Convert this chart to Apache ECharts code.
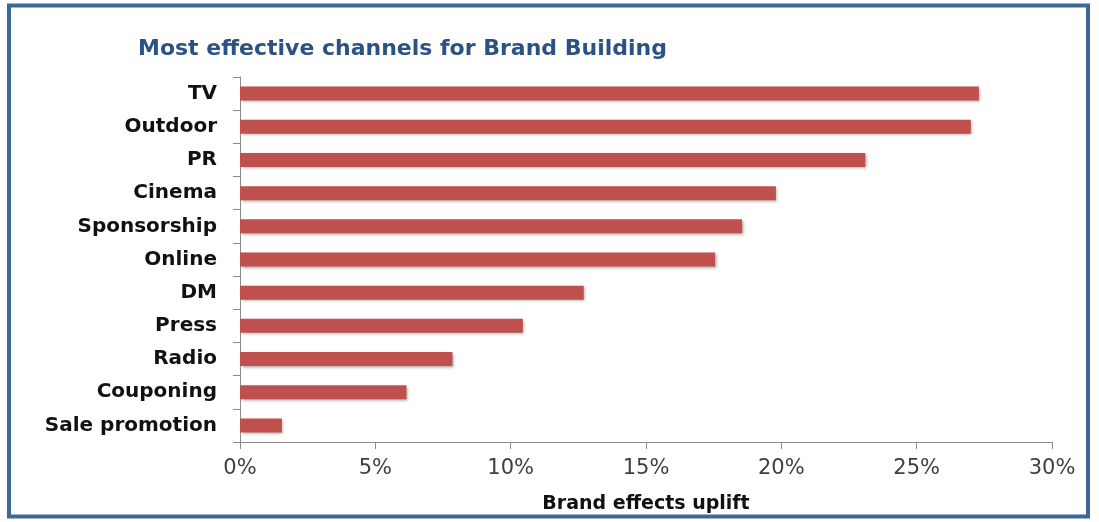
<!DOCTYPE html>
<html>
<head>
<meta charset="utf-8">
<script src="https://cdn.jsdelivr.net/npm/echarts@6/dist/echarts.min.js"></script>
<style>html,body{margin:0;padding:0;background:#fff}#c{width:1099px;height:522px}</style>
</head>
<body>
<div id="c"></div>
<script>
const categories = ["TV","Outdoor","PR","Cinema","Sponsorship","Online","DM","Press","Radio","Couponing","Sale promotion"];
const values = [27.3, 27.0, 23.1, 19.8, 18.55, 17.55, 12.7, 10.45, 7.85, 6.15, 1.55];
const xTicks = [0, 5, 10, 15, 20, 25, 30];
const titleText = "Most effective channels for Brand Building";
const axisName = "Brand effects uplift";

const chart = echarts.init(document.getElementById('c'), null, {renderer:'canvas'});
const font = 'DejaVu Sans';
chart.setOption({
  animation: false,
  backgroundColor: '#fff',
  title: {
    text: titleText, left: 133, top: 33,
    textStyle: {fontFamily: font, fontWeight: 'bold', fontSize: 22, color: '#2A5285'}
  },
  graphic: [{
    type: 'rect', shape: {x: 9, y: 5.5, width: 1079, height: 511},
    style: {fill: 'none', stroke: '#3E6696', lineWidth: 4}, z: 100
  }],
  grid: {left: 240, right: 47, top: 77, bottom: 80},
  xAxis: {
    type: 'value', min: xTicks[0], max: xTicks[xTicks.length-1], interval: 5,
    name: axisName, nameLocation: 'middle', nameGap: 53,
    nameTextStyle: {fontFamily: font, fontWeight: 'bold', fontSize: 19, color: '#111'},
    axisLine: {show: true, lineStyle: {color: '#8C8C8C', width: 1}},
    axisTick: {show: true, length: 7, lineStyle: {color: '#8C8C8C'}},
    axisLabel: {formatter: v => v + '%', fontFamily: font, fontSize: 21, color: '#404040', margin: 16},
    splitLine: {show: false}
  },
  yAxis: {
    type: 'category', data: categories, inverse: true,
    axisLine: {show: true, lineStyle: {color: '#8C8C8C', width: 1}},
    axisTick: {show: true, length: 7, lineStyle: {color: '#8C8C8C'}},
    axisLabel: {fontFamily: font, fontWeight: 'bold', fontSize: 20, color: '#111', margin: 23}
  },
  series: [{
    type: 'bar', data: values, barWidth: 14,
    itemStyle: {color: '#C0504D', shadowBlur: 3, shadowOffsetX: 1.5, shadowOffsetY: 1.5, shadowColor: 'rgba(0,0,0,0.35)'}
  }]
});
</script>
</body>
</html>
